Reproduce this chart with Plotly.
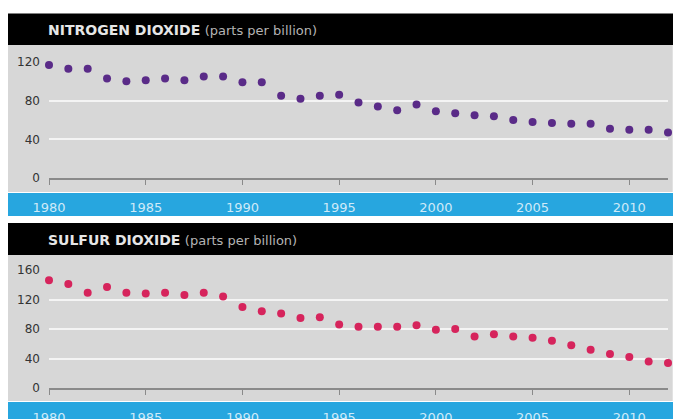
import plotly.graph_objects as go

W, H = 681, 419
OFF = 8  # page body margin in the viewer

years = list(range(1980, 2013))
no2_ppb = [117, 113, 113, 103, 100, 101, 103, 101, 105, 105, 99, 99, 85, 82, 85, 86,
           78, 74, 70, 76, 69, 67, 65, 64, 60, 58, 57, 56, 56, 51, 50, 50, 47]
so2_ppb = [146, 141, 129, 137, 129, 128, 129, 126, 129, 124, 110, 104, 101, 95, 96, 86,
           83, 83, 83, 85, 79, 80, 70, 73, 70, 68, 64, 58, 52, 46, 42, 36, 34]
x_ticks = [1980, 1985, 1990, 1995, 2000, 2005, 2010]
no2_yticks = [0, 40, 80, 120]
so2_yticks = [0, 40, 80, 120, 160]
titles = ["NITROGEN DIOXIDE", "SULFUR DIOXIDE"]
subtitle = "(parts per billion)"


def px(xp):
    return (xp - OFF) / W


def py(yp):
    return 1 - (yp - OFF) / H


fig = go.Figure()
fig.add_trace(go.Scatter(x=years, y=no2_ppb, mode="markers", xaxis="x", yaxis="y",
                         marker=dict(size=8, color="#5a2b88"), cliponaxis=False,
                         showlegend=False, hoverinfo="x+y"))
fig.add_trace(go.Scatter(x=years, y=so2_ppb, mode="markers", xaxis="x2", yaxis="y2",
                         marker=dict(size=8, color="#d6245c"), cliponaxis=False,
                         showlegend=False, hoverinfo="x+y"))

shapes = []
# panel geometry (pixels): header top, header bottom/grey top, grey bottom/blue top, blue bottom
panels = [(13.5, 45, 192, 216), (223, 255, 401, 430)]
for (ht, hb, gb, bb) in panels:
    shapes.append(dict(type="rect", xref="paper", yref="paper", x0=px(8), x1=px(690),
                       y0=py(hb), y1=py(ht), fillcolor="#000000", line_width=0, layer="below"))
    shapes.append(dict(type="rect", xref="paper", yref="paper", x0=px(8), x1=px(672),
                       y0=py(gb), y1=py(hb), fillcolor="#d7d7d7", line_width=0, layer="below"))
    shapes.append(dict(type="rect", xref="paper", yref="paper", x0=px(672), x1=px(690),
                       y0=py(gb), y1=py(hb), fillcolor="#e2e2e2", line_width=0, layer="below"))
    shapes.append(dict(type="rect", xref="paper", yref="paper", x0=px(8), x1=px(690),
                       y0=py(bb), y1=py(gb + 1), fillcolor="#27a6df", line_width=0, layer="below"))

annotations = []
for title, yc in zip(titles, [30.5, 240]):
    annotations.append(dict(
        xref="paper", yref="paper", x=px(46), y=py(yc), xanchor="left", yanchor="middle",
        showarrow=False,
        text=f"<b>{title}</b> <span style='font-size:13px;font-weight:normal;color:#b4b4b4'>{subtitle}</span>",
        font=dict(family="DejaVu Sans", size=14, color="#e6e6e6")))

xcommon = dict(range=[1980, 2012], domain=[px(49), px(668)], tickvals=x_ticks,
               showgrid=False, zeroline=False, showline=True, linecolor="#8a8a8a",
               linewidth=1.5, ticks="outside", ticklen=5, tickwidth=1, tickcolor="#8a8a8a",
               tickfont=dict(family="DejaVu Sans", size=13, color="#cfeaf8"),
               ticklabelstandoff=12, automargin=False, fixedrange=True)
ycommon = dict(showgrid=True, gridcolor="#f4f4f4", gridwidth=1.5, zeroline=False,
               showline=False, ticks="", tickfont=dict(family="DejaVu Sans", size=12, color="#333333"),
               ticklabelstandoff=8, automargin=False, fixedrange=True)

fig.update_layout(
    width=W, height=H, margin=dict(l=0, r=0, t=0, b=0, pad=0),
    paper_bgcolor="#ffffff", plot_bgcolor="rgba(0,0,0,0)",
    xaxis=dict(anchor="y", **xcommon),
    xaxis2=dict(anchor="y2", **xcommon),
    yaxis=dict(anchor="x", range=[0, 120], domain=[py(178), py(62)], tickvals=no2_yticks, **ycommon),
    yaxis2=dict(anchor="x2", range=[0, 160], domain=[py(388), py(270)], tickvals=so2_yticks, **ycommon),
    shapes=shapes, annotations=annotations,
)

fig.write_html("out.html")
